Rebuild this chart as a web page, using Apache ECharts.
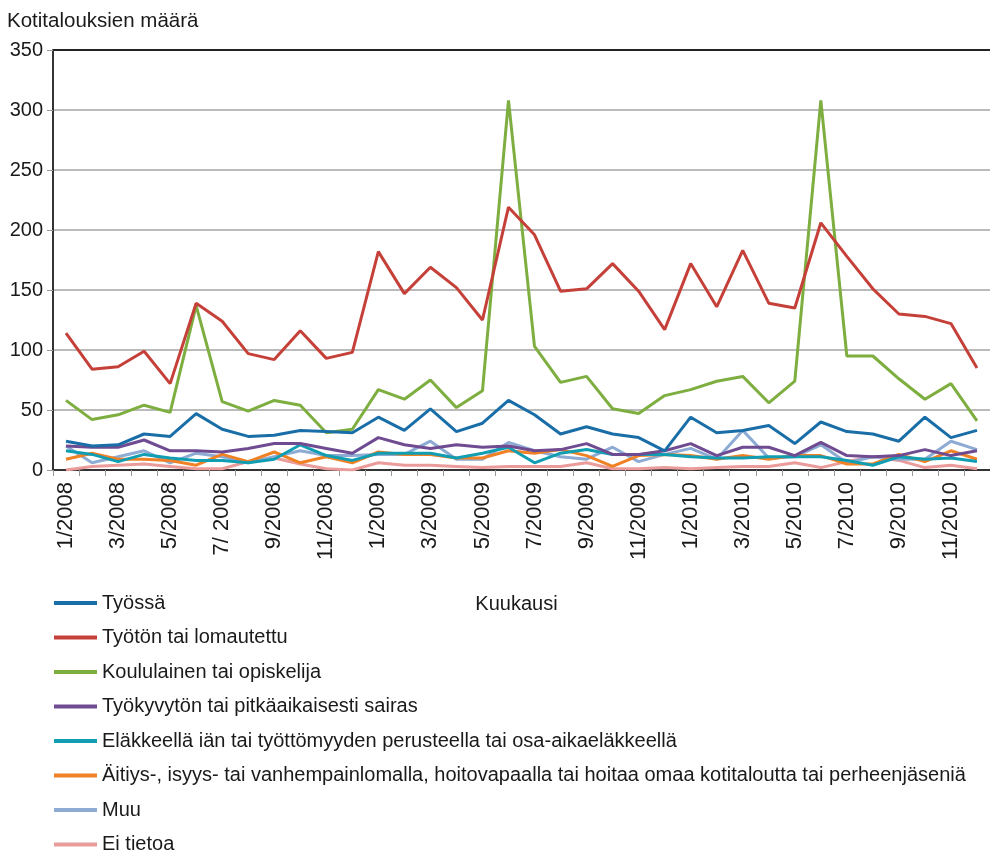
<!DOCTYPE html>
<html>
<head>
<meta charset="utf-8">
<script src="https://cdn.jsdelivr.net/npm/echarts@6/dist/echarts.min.js"></script>
<style>
  html, body { margin: 0; padding: 0; background: #fff; }
  #chart { width: 990px; height: 852px; }
</style>
</head>
<body>
<div id="chart"></div>
<script>
// kuukaudet 1/2008 - 12/2010
let months = [
  '1/2008', '2/2008', '3/2008', '4/2008', '5/2008', '6/2008', '7/ 2008', '8/2008', '9/2008', '10/2008', '11/2008', '12/2008',
  '1/2009', '2/2009', '3/2009', '4/2009', '5/2009', '6/2009', '7/2009', '8/2009', '9/2009', '10/2009', '11/2009', '12/2009',
  '1/2010', '2/2010', '3/2010', '4/2010', '5/2010', '6/2010', '7/2010', '8/2010', '9/2010', '10/2010', '11/2010', '12/2010'
];

let yTicks = [0, 50, 100, 150, 200, 250, 300, 350];

let tyossa = [24, 20, 21, 30, 28, 47, 34, 28, 29, 33, 32, 31,
  44, 33, 51, 32, 39, 58, 46, 30, 36, 30, 27, 16,
  44, 31, 33, 37, 22, 40, 32, 30, 24, 44, 27, 33];
let tyoton = [114, 84, 86, 99, 72, 139, 124, 97, 92, 116, 93, 98,
  182, 147, 169, 152, 125, 219, 196, 149, 151, 172, 149, 117,
  172, 136, 183, 139, 135, 206, 178, 151, 130, 128, 122, 85];
let opiskelija = [58, 42, 46, 54, 48, 137, 57, 49, 58, 54, 31, 34,
  67, 59, 75, 52, 66, 308, 103, 73, 78, 51, 47, 62,
  67, 74, 78, 56, 74, 308, 95, 95, 76, 59, 72, 41];
let sairas = [20, 19, 19, 25, 16, 16, 15, 18, 22, 22, 18, 14,
  27, 21, 18, 21, 19, 20, 16, 17, 22, 13, 13, 16,
  22, 12, 19, 19, 12, 23, 12, 11, 12, 17, 12, 16];
let elakkeella = [16, 13, 7, 13, 10, 8, 8, 6, 9, 21, 12, 8,
  14, 14, 14, 10, 14, 19, 6, 14, 17, 13, 13, 13,
  11, 10, 10, 11, 11, 11, 8, 4, 11, 9, 10, 7];
let perhevapaa = [9, 14, 9, 9, 8, 4, 13, 7, 15, 6, 11, 6,
  15, 13, 13, 10, 10, 16, 14, 17, 12, 3, 12, 13,
  12, 9, 12, 9, 12, 12, 5, 5, 13, 7, 16, 9];
let muu = [20, 6, 11, 16, 6, 14, 11, 6, 11, 16, 12, 12,
  13, 13, 24, 9, 9, 23, 16, 11, 9, 19, 7, 13,
  18, 9, 33, 10, 11, 21, 6, 11, 9, 9, 24, 17];
let eiTietoa = [0, 3, 4, 5, 3, 1, 1, 7, 10, 5, 1, 0,
  6, 4, 4, 3, 2, 3, 3, 3, 6, 1, 1, 2,
  1, 2, 3, 3, 6, 2, 7, 11, 8, 2, 4, 1];

let seriesNames = [
  'Työssä',
  'Työtön tai lomautettu',
  'Koululainen tai opiskelija',
  'Työkyvytön tai pitkäaikaisesti sairas',
  'Eläkkeellä iän tai työttömyyden perusteella tai osa-aikaeläkkeellä',
  'Äitiys-, isyys- tai vanhempainlomalla, hoitovapaalla tai hoitaa omaa kotitaloutta tai perheenjäseniä',
  'Muu',
  'Ei tietoa'
];
let seriesData = [tyossa, tyoton, opiskelija, sairas, elakkeella, perhevapaa, muu, eiTietoa];
let colors = ['#1a6ea8', '#c6403a', '#7dae3f', '#6f4b91', '#119eb3', '#f08125', '#8eabd4', '#ea9c9b'];

let font = 'Liberation Sans';

let series = [];
for (let i = 0; i < seriesNames.length; i++) {
  series.push({
    name: seriesNames[i],
    type: 'line',
    data: seriesData[i],
    showSymbol: false,
    symbol: 'none',
    lineStyle: { width: 3, color: colors[i] },
    itemStyle: { color: colors[i] },
    z: 10 - i
  });
}

let chart = echarts.init(document.getElementById('chart'));
chart.setOption({
  animation: false,
  backgroundColor: '#fff',
  color: colors,
  textStyle: { fontFamily: font, color: '#1a1a1a' },
  title: {
    text: 'Kotitalouksien määrä',
    left: 2,
    top: 6,
    textStyle: { fontFamily: font, fontSize: 20.5, fontWeight: 'normal', color: '#1a1a1a' }
  },
  legend: {
    orient: 'vertical',
    left: 49,
    top: 588,
    height: 300,
    icon: 'rect',
    itemWidth: 43,
    itemHeight: 4,
    itemGap: 14.5,
    data: seriesNames,
    textStyle: { fontFamily: font, fontSize: 20, lineHeight: 20, color: '#1a1a1a' }
  },
  grid: { left: 53, top: 50, width: 943, height: 420, containLabel: false },
  xAxis: {
    type: 'category',
    data: months,
    boundaryGap: true,
    name: 'Kuukausi',
    nameLocation: 'middle',
    nameGap: 124,
    nameTextStyle: { fontFamily: font, fontSize: 20, color: '#1a1a1a', padding: [0, 10, 0, 0] },
    axisLine: { lineStyle: { color: '#333', width: 2 } },
    axisTick: { show: true, interval: 0, length: 6, lineStyle: { color: '#999' } },
    axisLabel: { interval: 1, rotate: 90, margin: 12, fontFamily: font, fontSize: 22, color: '#1a1a1a' },
    splitLine: { show: false }
  },
  yAxis: {
    type: 'value',
    min: yTicks[0],
    max: yTicks[yTicks.length - 1],
    interval: 50,
    axisLine: { show: true, lineStyle: { color: '#333', width: 2 } },
    axisTick: { show: true, length: 6, lineStyle: { color: '#999' } },
    axisLabel: { margin: 10, fontFamily: font, fontSize: 20, color: '#1a1a1a' },
    splitLine: { show: true, lineStyle: { color: ['#bbb', '#bbb', '#bbb', '#bbb', '#bbb', '#bbb', '#bbb', '#222'], width: 2 } }
  },
  series: series
});
</script>
</body>
</html>
